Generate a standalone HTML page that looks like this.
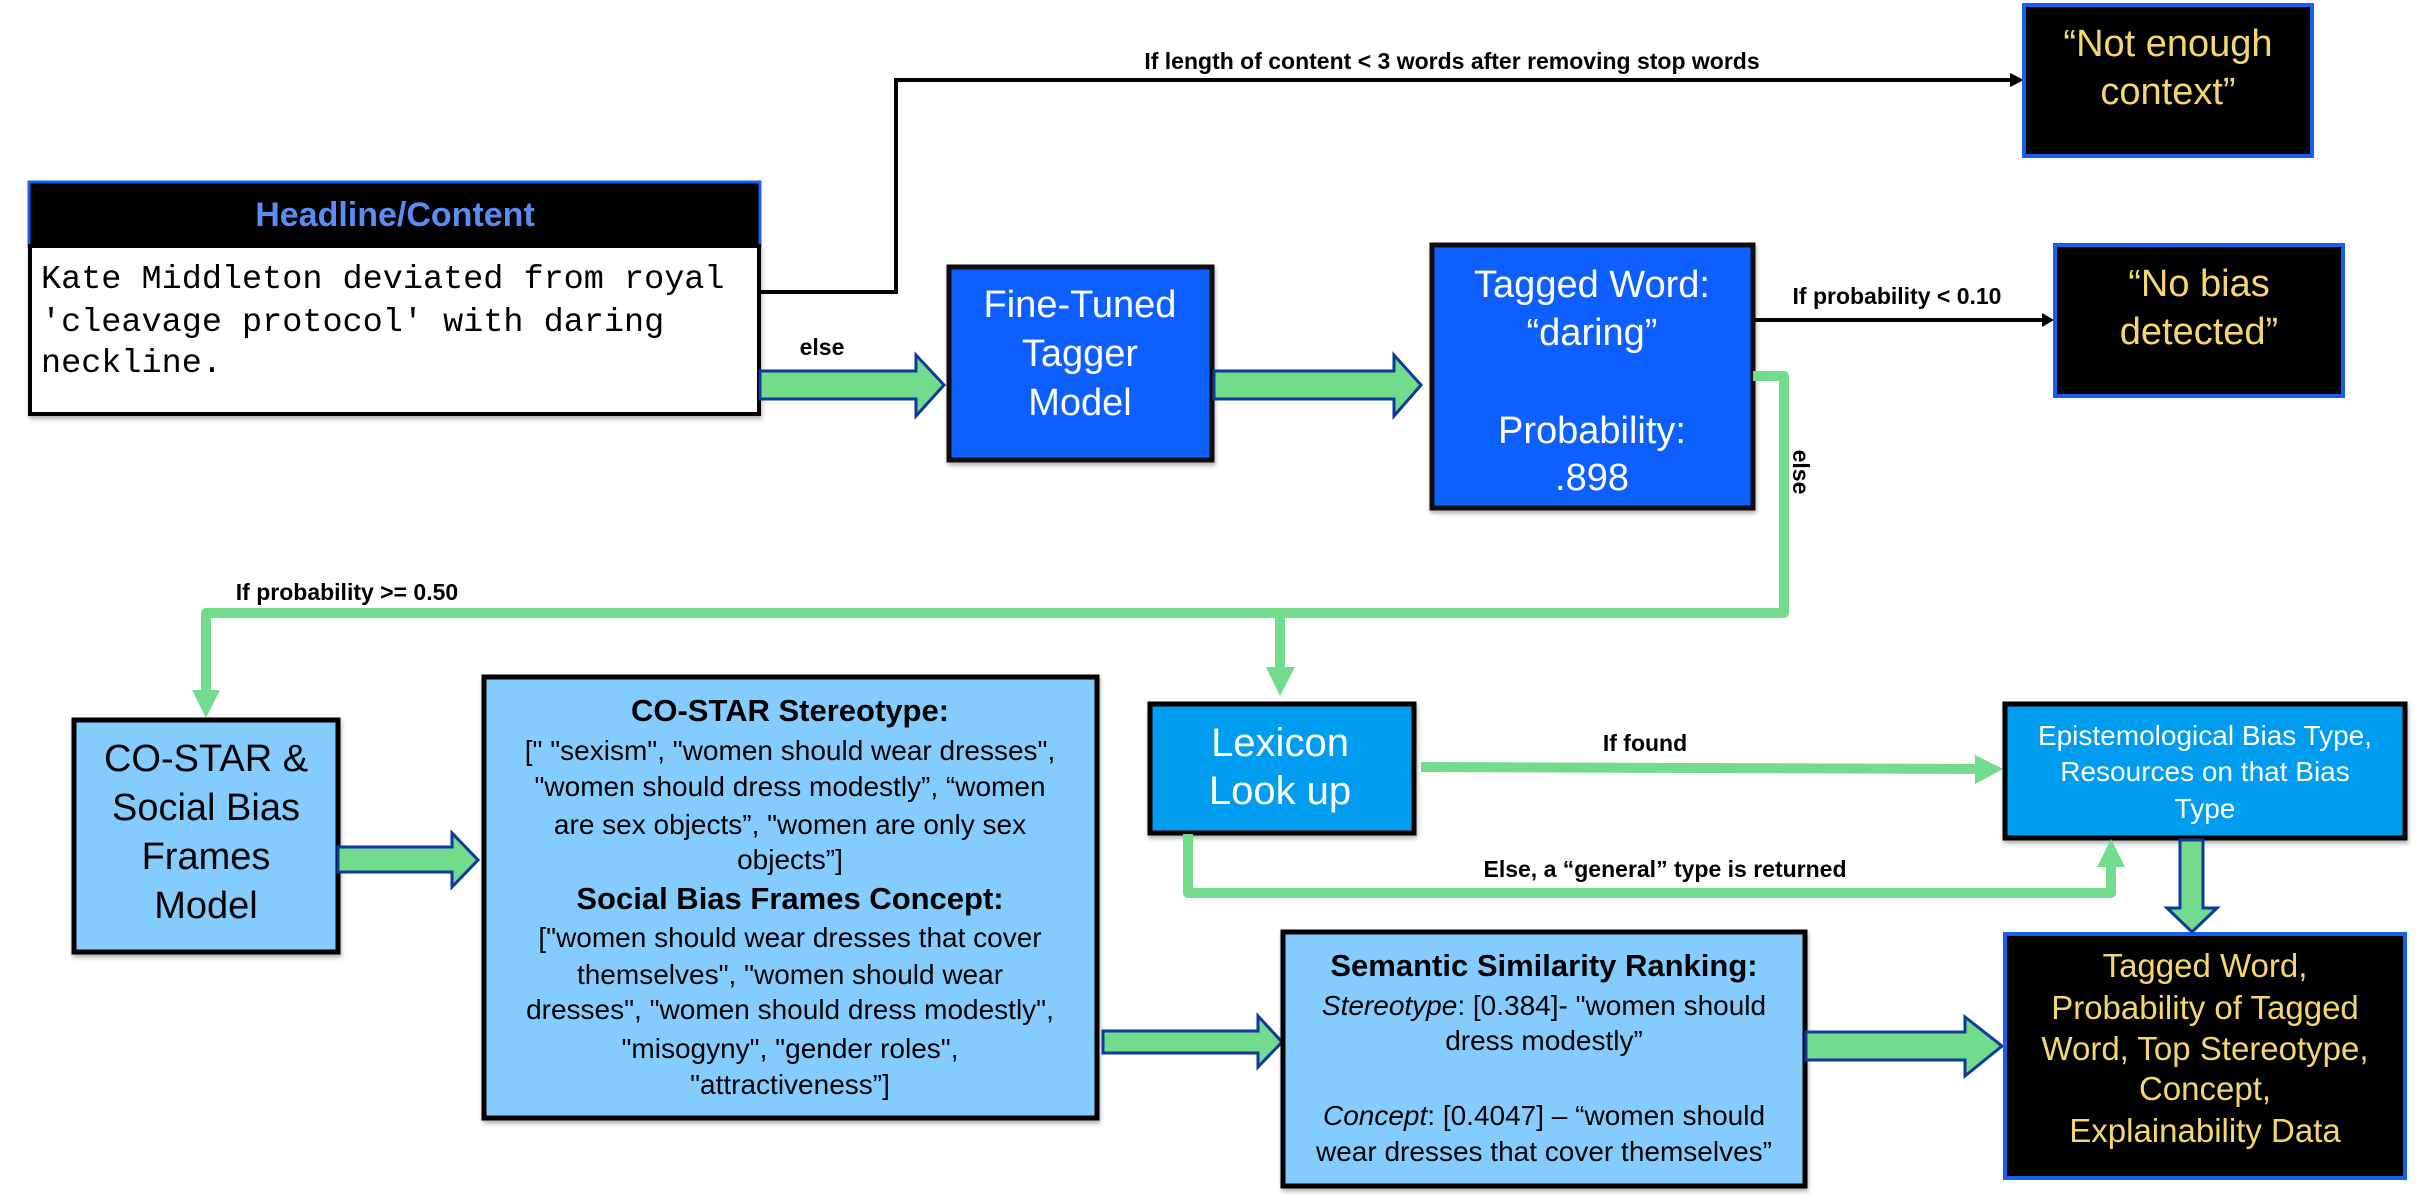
<!DOCTYPE html>
<html><head><meta charset="utf-8"><style>
html,body{margin:0;padding:0;background:#fff;}
svg{display:block;}
</style></head><body>
<svg width="2424" height="1204" viewBox="0 0 2424 1204" xmlns="http://www.w3.org/2000/svg" font-family="Liberation Sans, Arial, sans-serif">
<defs>
<filter id="sh" x="-5%" y="-5%" width="110%" height="115%"><feDropShadow dx="1" dy="3" stdDeviation="2" flood-color="#000" flood-opacity="0.3"/></filter>
</defs>

<!-- Headline box -->
<rect x="29" y="182" width="731" height="64" fill="#000" stroke="#1560F0" stroke-width="3"/>
<text x="395" y="226" text-anchor="middle" font-size="34" font-weight="bold" fill="#5A8CF5">Headline/Content</text>
<rect x="30" y="246" width="729" height="168" fill="#fff" stroke="#000" stroke-width="4" filter="url(#sh)"/>
<text font-family="Liberation Mono, monospace" font-size="33.5" fill="#000">
<tspan x="41" y="288">Kate Middleton deviated from royal</tspan>
<tspan x="41" y="331">'cleavage protocol' with daring</tspan>
<tspan x="41" y="372">neckline.</tspan>
</text>

<!-- black connector to Not enough context -->
<polyline points="760,292 896,292 896,80 2012,80" fill="none" stroke="#000" stroke-width="4"/>
<polygon points="2010,73 2024,80 2010,87" fill="#000"/>
<text x="1452" y="69" text-anchor="middle" font-size="23" font-weight="bold">If length of content &lt; 3 words after removing stop words</text>

<rect x="2024" y="5" width="288" height="151" fill="#000" stroke="#1560F0" stroke-width="4"/>
<text x="2168" y="56" text-anchor="middle" fill="#F6D76E" font-size="38">“Not enough</text>
<text x="2168" y="104" text-anchor="middle" fill="#F6D76E" font-size="38">context”</text>

<!-- arrow headline -> fine tuned -->
<polygon points="760,371 916,371 916,355 944,385 916,416 916,399 760,399" fill="#72DB8C" stroke="#0E3A9E" stroke-width="3"/>
<text x="822" y="355" text-anchor="middle" font-size="23" font-weight="bold">else</text>

<!-- Fine-Tuned -->
<rect x="949" y="267" width="263" height="193" fill="#1160FF" stroke="#111" stroke-width="5" filter="url(#sh)"/>
<g fill="#fff" font-size="38" text-anchor="middle">
<text x="1080" y="317">Fine-Tuned</text>
<text x="1080" y="366">Tagger</text>
<text x="1080" y="415">Model</text>
</g>

<!-- arrow fine -> tagged -->
<polygon points="1214,371 1394,371 1394,355 1421,385 1394,416 1394,399 1214,399" fill="#72DB8C" stroke="#0E3A9E" stroke-width="3"/>

<!-- Tagged word -->
<rect x="1432" y="245" width="321" height="263" fill="#1160FF" stroke="#111" stroke-width="5" filter="url(#sh)"/>
<g fill="#fff" font-size="38" text-anchor="middle">
<text x="1592" y="297">Tagged Word:</text>
<text x="1592" y="345">“daring”</text>
<text x="1592" y="443">Probability:</text>
<text x="1592" y="490">.898</text>
</g>

<!-- black arrow to No bias -->
<line x1="1753" y1="320" x2="2044" y2="320" stroke="#000" stroke-width="4"/>
<polygon points="2042,313 2054,320 2042,327" fill="#000"/>
<text x="1897" y="304" text-anchor="middle" font-size="23" font-weight="bold">If probability &lt; 0.10</text>
<rect x="2055" y="245" width="288" height="151" fill="#000" stroke="#1560F0" stroke-width="4"/>
<text x="2199" y="296" text-anchor="middle" fill="#F6D76E" font-size="38">“No bias</text>
<text x="2199" y="344" text-anchor="middle" fill="#F6D76E" font-size="38">detected”</text>

<!-- green thin connectors -->
<polyline points="1753,376 1784,376 1784,613 206,613 206,692" fill="none" stroke="#72DB8C" stroke-width="10" stroke-linejoin="round"/>
<polygon points="192,690 220,690 206,718" fill="#72DB8C"/>
<line x1="1280" y1="613" x2="1280" y2="670" stroke="#72DB8C" stroke-width="10"/>
<polygon points="1266,667 1295,667 1280,696" fill="#72DB8C"/>
<text x="1801" y="472" text-anchor="middle" font-size="23" font-weight="bold" transform="rotate(90 1801 472)" dy="8">else</text>
<text x="347" y="600" text-anchor="middle" font-size="23" font-weight="bold">If probability &gt;= 0.50</text>

<!-- CO-STAR model -->
<rect x="74" y="720" width="264" height="232" fill="#84CCFD" stroke="#000" stroke-width="5" filter="url(#sh)"/>
<g font-size="38" text-anchor="middle">
<text x="206" y="771">CO-STAR &amp;</text>
<text x="206" y="820">Social Bias</text>
<text x="206" y="869">Frames</text>
<text x="206" y="918">Model</text>
</g>

<polygon points="338,847 452,847 452,833 478,860 452,887 452,872 338,872" fill="#72DB8C" stroke="#0E3A9E" stroke-width="3"/>

<!-- big box -->
<rect x="484" y="677" width="613" height="441" fill="#84CCFD" stroke="#000" stroke-width="5" filter="url(#sh)"/>
<g text-anchor="middle" font-size="28">
<text x="790" y="721" font-size="31" font-weight="bold">CO-STAR Stereotype:</text>
<text x="790" y="760">[" "sexism", "women should wear dresses",</text>
<text x="790" y="796">"women should dress modestly”, “women</text>
<text x="790" y="834">are sex objects”, "women are only sex</text>
<text x="790" y="869">objects”]</text>
<text x="790" y="909" font-size="31" font-weight="bold">Social Bias Frames Concept:</text>
<text x="790" y="947">["women should wear dresses that cover</text>
<text x="790" y="984">themselves", "women should wear</text>
<text x="790" y="1019">dresses", "women should dress modestly",</text>
<text x="790" y="1058">"misogyny", "gender roles",</text>
<text x="790" y="1094">"attractiveness”]</text>
</g>

<polygon points="1103,1031 1258,1031 1258,1016 1282,1042 1258,1067 1258,1053 1103,1053" fill="#72DB8C" stroke="#0E3A9E" stroke-width="3"/>

<!-- Semantic -->
<rect x="1283" y="932" width="522" height="254" fill="#84CCFD" stroke="#000" stroke-width="5" filter="url(#sh)"/>
<g text-anchor="middle" font-size="28">
<text x="1544" y="976" font-size="31" font-weight="bold">Semantic Similarity Ranking:</text>
<text x="1544" y="1015"><tspan font-style="italic">Stereotype</tspan>: [0.384]- "women should</text>
<text x="1544" y="1050">dress modestly”</text>
<text x="1544" y="1125"><tspan font-style="italic">Concept</tspan>: [0.4047] – “women should</text>
<text x="1544" y="1161">wear dresses that cover themselves”</text>
</g>

<polygon points="1806,1032 1965,1032 1965,1017 2002,1046 1965,1076 1965,1060 1806,1060" fill="#72DB8C" stroke="#0E3A9E" stroke-width="3"/>

<!-- Final -->
<rect x="2005" y="934" width="400" height="244" fill="#000" stroke="#1560F0" stroke-width="4"/>
<g text-anchor="middle" fill="#F6D76E" font-size="33">
<text x="2205" y="977">Tagged Word,</text>
<text x="2205" y="1019">Probability of Tagged</text>
<text x="2205" y="1060">Word, Top Stereotype,</text>
<text x="2205" y="1100">Concept,</text>
<text x="2205" y="1142">Explainability Data</text>
</g>

<!-- Lexicon -->
<rect x="1150" y="704" width="264" height="129" fill="#039CF0" stroke="#000" stroke-width="5" filter="url(#sh)"/>
<text x="1280" y="756" text-anchor="middle" fill="#fff" font-size="40">Lexicon</text>
<text x="1280" y="804" text-anchor="middle" fill="#fff" font-size="40">Look up</text>

<!-- Epistemological -->
<rect x="2005" y="704" width="400" height="134" fill="#039CF0" stroke="#000" stroke-width="5" filter="url(#sh)"/>
<g text-anchor="middle" fill="#fff" font-size="28">
<text x="2205" y="745">Epistemological Bias Type,</text>
<text x="2205" y="781">Resources on that Bias</text>
<text x="2205" y="818">Type</text>
</g>

<!-- if found -->
<line x1="1421" y1="767" x2="1978" y2="769" stroke="#72DB8C" stroke-width="10"/>
<polygon points="1975,755 2003,769 1975,784" fill="#72DB8C"/>
<text x="1645" y="751" text-anchor="middle" font-size="23" font-weight="bold">If found</text>

<!-- else general -->
<polyline points="1188,834 1188,893 2111,893 2111,864" fill="none" stroke="#72DB8C" stroke-width="10" stroke-linejoin="round"/>
<polygon points="2097,867 2125,867 2111,839" fill="#72DB8C"/>
<text x="1665" y="877" text-anchor="middle" font-size="23" font-weight="bold">Else, a “general” type is returned</text>

<!-- down arrow epist -> final -->
<polygon points="2180,840 2203,840 2203,908 2217,908 2192,932 2167,908 2180,908" fill="#72DB8C" stroke="#0E3A9E" stroke-width="3"/>
</svg>
</body></html>
